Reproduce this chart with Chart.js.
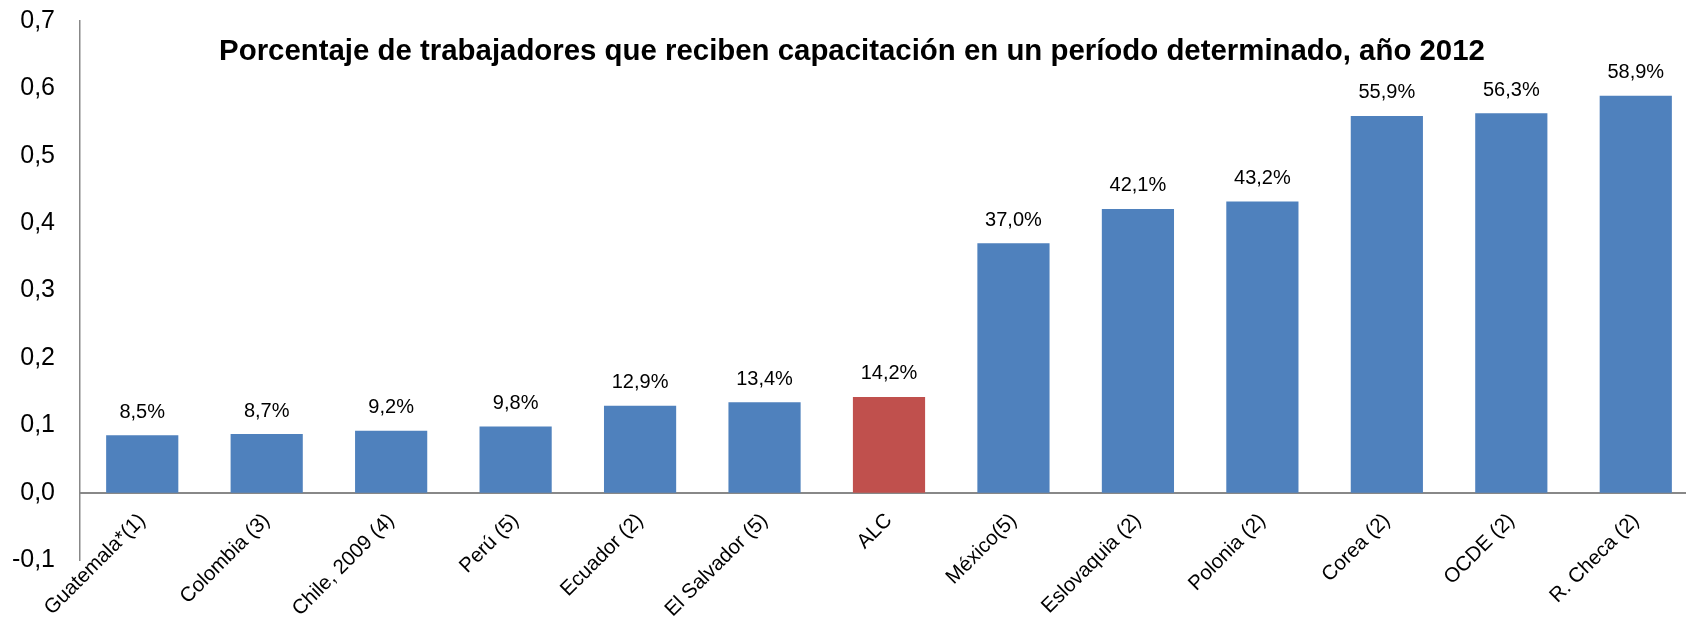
<!DOCTYPE html>
<html>
<head>
<meta charset="utf-8">
<script src="https://cdn.jsdelivr.net/npm/chart.js@4/dist/chart.umd.min.js"></script>
<style>
html, body { margin: 0; padding: 0; background: #fff; overflow: hidden; width: 1686px; height: 617px; }
#wrap { position: absolute; left: 0; top: -11px; width: 1700px; height: 628px; }
</style>
</head>
<body>
<div id="wrap"><canvas id="c" width="1700" height="628"></canvas></div>
<script>
const chartTitle = "Porcentaje de trabajadores que reciben capacitación en un período determinado, año 2012";
const categories = ["Guatemala*(1)", "Colombia (3)", "Chile, 2009 (4)", "Perú (5)", "Ecuador (2)", "El Salvador (5)", "ALC", "México(5)", "Eslovaquia (2)", "Polonia (2)", "Corea (2)", "OCDE (2)", "R. Checa (2)"];
const values = [0.085, 0.087, 0.092, 0.098, 0.129, 0.134, 0.142, 0.370, 0.421, 0.432, 0.559, 0.563, 0.589];
const highlightCategory = "ALC";
const yTicks = [-0.1, 0.0, 0.1, 0.2, 0.3, 0.4, 0.5, 0.6, 0.7];

const BLUE = "#4F81BD";
const RED = "#C0504D";
const FONT = '"Liberation Sans", Arial, sans-serif';

const colors = categories.map(c => c === highlightCategory ? RED : BLUE);
const fmtPct = v => (v * 100).toFixed(1).replace(".", ",") + "%";

const overlayText = {
  id: "overlayText",
  afterDatasetsDraw(chart) {
    const ctx = chart.ctx;
    ctx.save();
    // value labels
    ctx.fillStyle = "#000";
    ctx.font = "20px " + FONT;
    ctx.textAlign = "center";
    ctx.textBaseline = "alphabetic";
    const meta = chart.getDatasetMeta(0);
    meta.data.forEach((bar, i) => {
      ctx.fillText(fmtPct(values[i]), bar.x, bar.y - 17.5);
    });
    // title
    ctx.font = "bold 29.4px " + FONT;
    ctx.fillText(chartTitle, 852, 71);
    ctx.restore();
  }
};

new Chart(document.getElementById("c"), {
  type: "bar",
  data: {
    labels: categories,
    datasets: [{
      data: values,
      backgroundColor: colors,
      borderWidth: 0,
      barPercentage: 0.58,
      categoryPercentage: 1.0
    }]
  },
  options: {
    responsive: false,
    animation: false,
    devicePixelRatio: 1,
    layout: { padding: { top: 7, bottom: 57, left: 0, right: 2 } },
    plugins: { legend: { display: false }, tooltip: { enabled: false }, title: { display: false } },
    scales: {
      x: {
        position: { y: 0 },
        grid: { display: false },
        border: { display: true, color: "#888888", width: 2 },
        ticks: {
          autoSkip: false,
          maxRotation: 45,
          minRotation: 45,
          padding: 8,
          color: "#000",
          font: { family: FONT, size: 20.5 }
        }
      },
      y: {
        min: -0.1,
        max: 0.7,
        afterFit(scale) { scale.width = 80; },
        afterBuildTicks(scale) { scale.ticks = yTicks.map(v => ({ value: v })); },
        grid: { display: false },
        border: { display: true, color: "#888888", width: 1.5 },
        ticks: {
          padding: 17,
          color: "#000",
          font: { family: FONT, size: 25 },
          callback: v => Number(v).toFixed(1).replace(".", ",")
        }
      }
    }
  },
  plugins: [overlayText]
});
</script>
</body>
</html>
